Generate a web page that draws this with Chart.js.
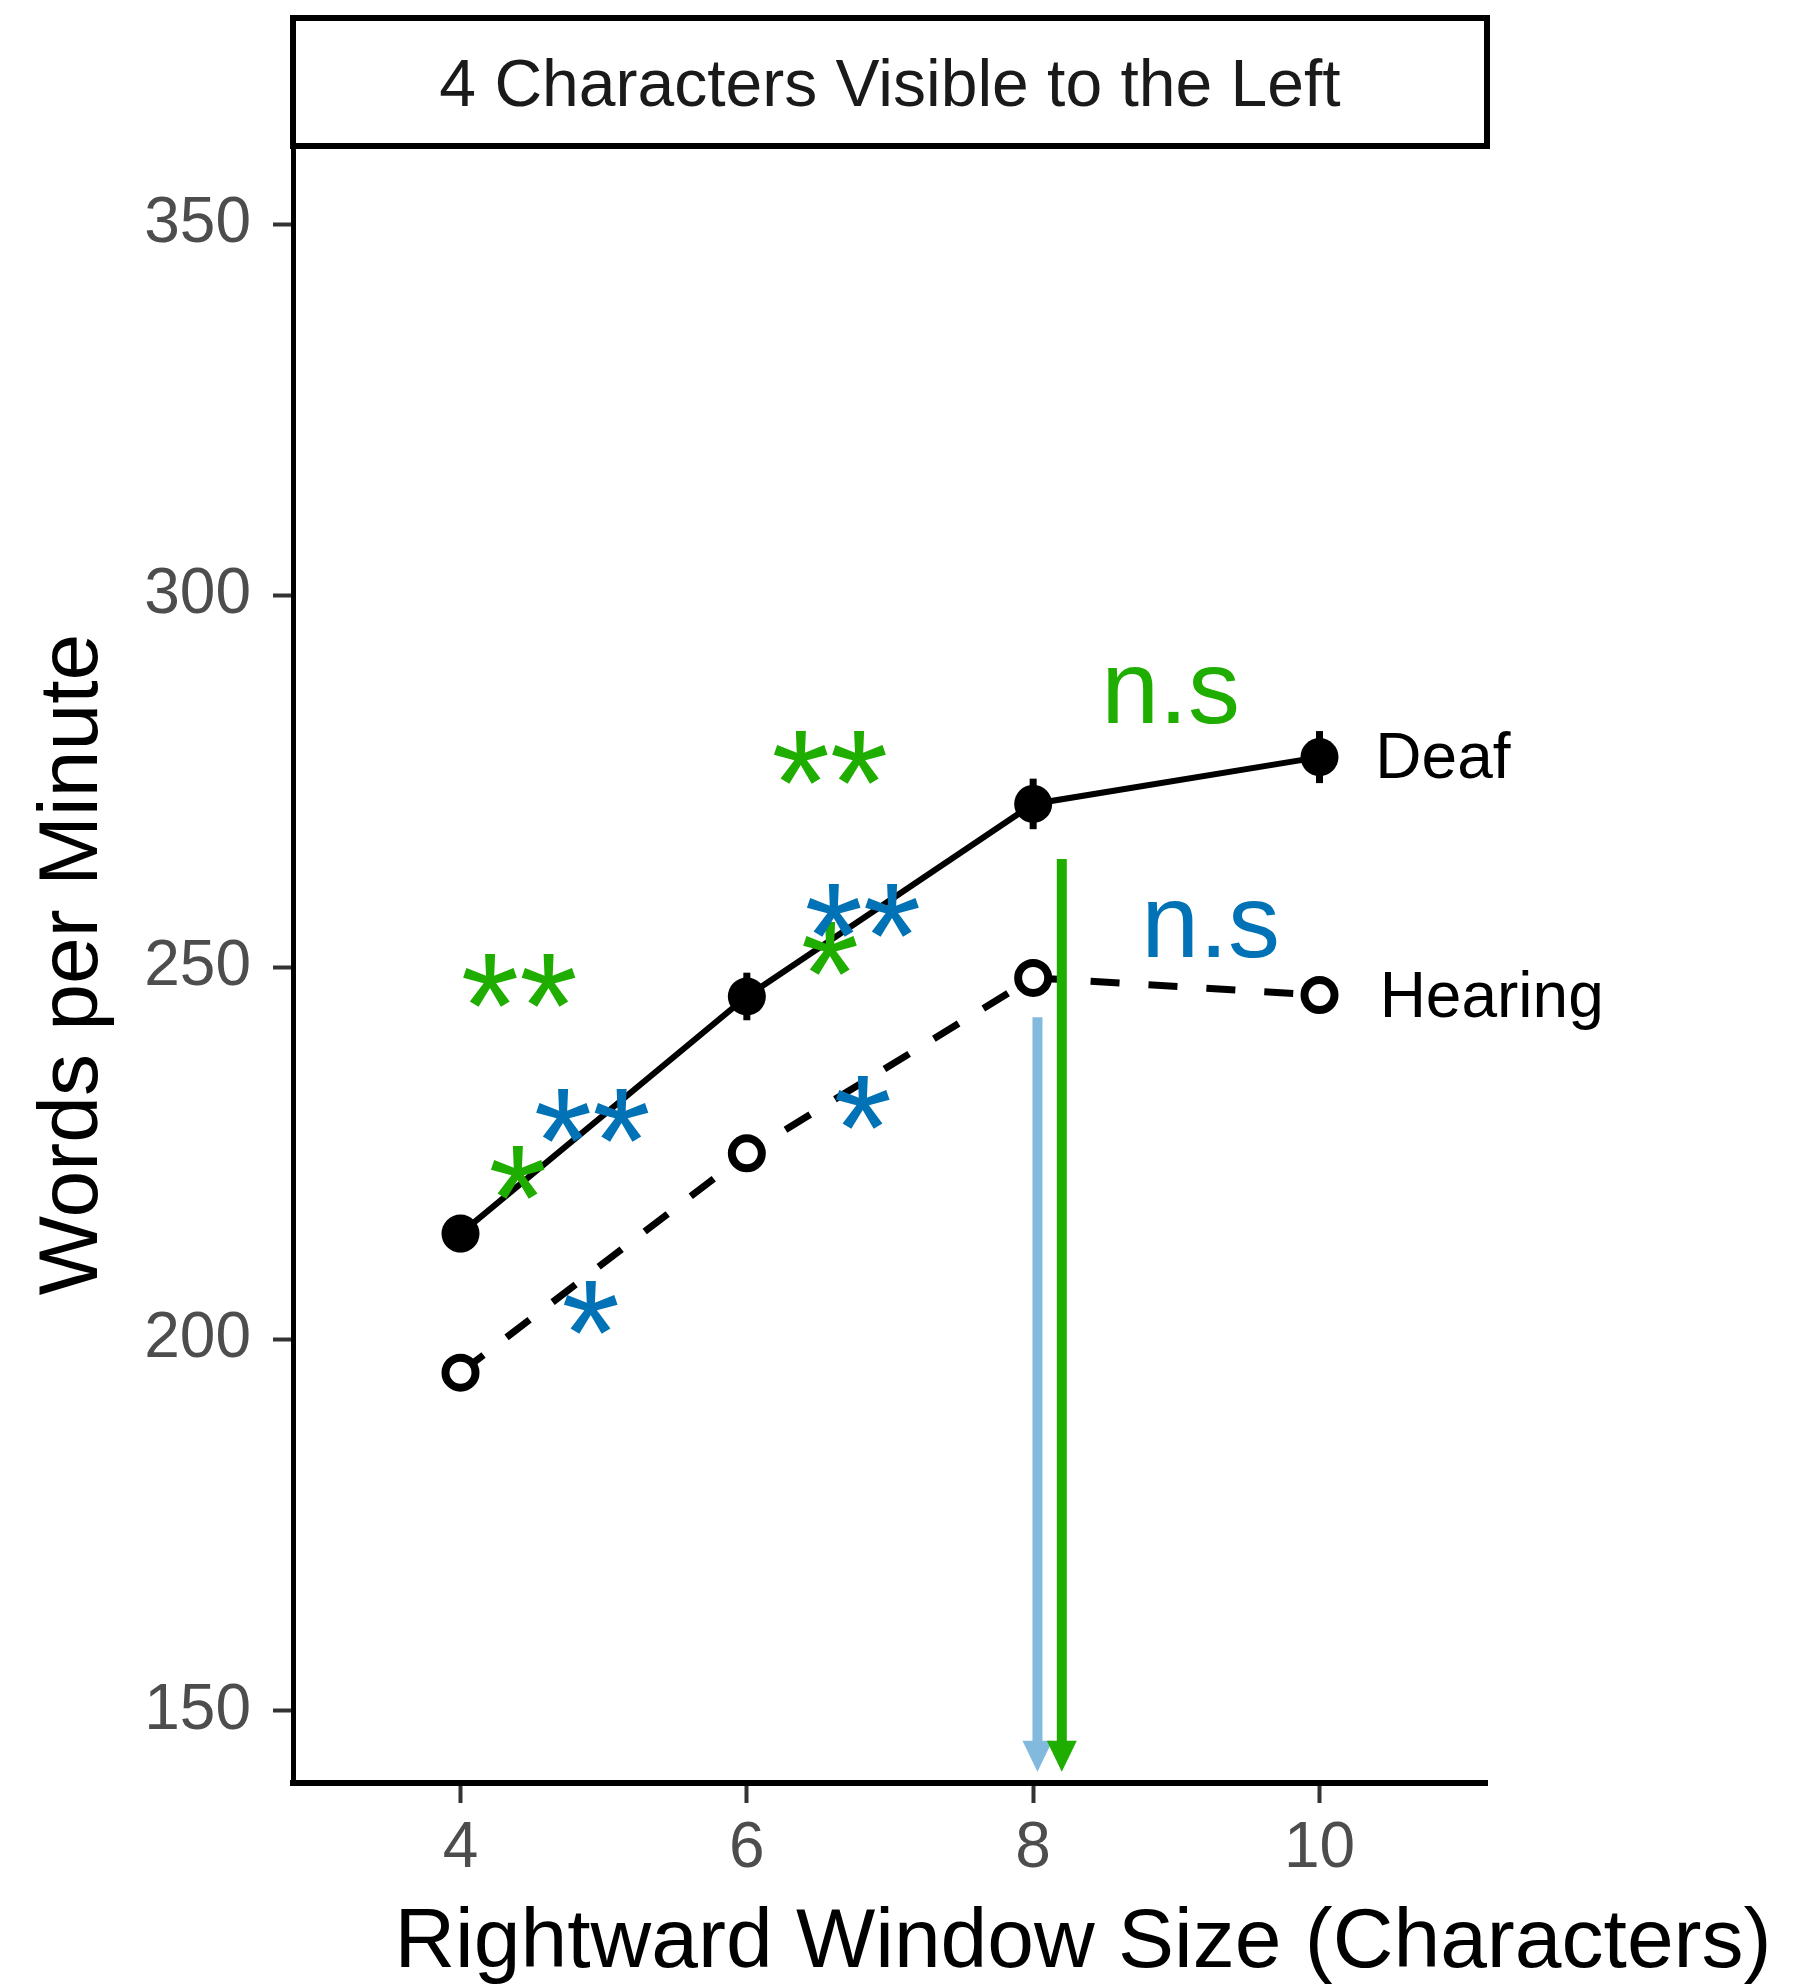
<!DOCTYPE html>
<html>
<head>
<meta charset="utf-8">
<script src="https://cdn.jsdelivr.net/npm/chart.js@4.4.0/dist/chart.umd.min.js"></script>
<style>
  html, body { margin: 0; padding: 0; background: #fff; }
</style>
</head>
<body>
<canvas id="myChart" width="1794" height="1986"></canvas>
<script>
// Rightward window size (x axis)
var windowSize = [4, 6, 8, 10];
// Mean words per minute per group
var deafWpm = [214.2, 246.1, 272.0, 278.3];
var hearingWpm = [195.5, 225.0, 248.6, 246.3];
// Error bar half-heights
var deafErr = [2.5, 3.2, 3.4, 3.5];
var hearingErr = [2.0, 2.0, 2.2, 2.0];

// Axis ticks and ranges
var xTicks = [4, 6, 8, 10];
var yTicks = [150, 200, 250, 300, 350];
var xRange = [2.83, 11.17];
var yRange = [140.3, 360.5];

var panelTitle = '4 Characters Visible to the Left';
var xTitle = 'Rightward Window Size (Characters)';
var yTitle = 'Words per Minute';

// Line end labels
var groupLabels = ['Deaf', 'Hearing'];
var groupLabelX = [10.39, 10.42];
var groupLabelY = [278.6, 245.6];

// Significance marks
var sigText = ['**', '*', '**', '*', '**', '*', '**', '*', 'n.s', 'n.s'];
var sigColor = ['green', 'green', 'blue', 'blue', 'green', 'green', 'blue', 'blue', 'green', 'blue'];
var sigX = [4.41, 4.40, 4.92, 4.91, 6.58, 6.58, 6.81, 6.81, 8.96, 9.24];
var sigY = [248.3, 222.4, 230.1, 204.2, 278.3, 252.6, 257.7, 231.8, 286.6, 255.1];

// Arrows pointing down to the axis
var arrowColor = ['lightblue', 'green'];
var arrowX = [8.03, 8.2];
var arrowFrom = [243.3, 264.6];
var arrowTo = [141.8, 141.8];

var colors = { green: '#1fad00', blue: '#0072b5', lightblue: '#82badd' };
var FONT = '"Liberation Sans", Arial, sans-serif';

// draw text centred on its visible ink
function drawCentered(ctx, text, cx, cy, align) {
    ctx.textAlign = align || 'center';
    ctx.textBaseline = 'alphabetic';
    var m = ctx.measureText(text);
    var base = cy + (m.actualBoundingBoxAscent - m.actualBoundingBoxDescent) / 2;
    ctx.fillText(text, cx, base);
}

var extras = {
    id: 'extras',
    beforeDatasetsDraw: function(chart) {
        var ctx = chart.ctx, xs = chart.scales.x, ys = chart.scales.y;
        ctx.save();
        ctx.strokeStyle = '#000';
        ctx.lineWidth = 7;
        [[deafWpm, deafErr], [hearingWpm, hearingErr]].forEach(function(s) {
            s[0].forEach(function(v, i) {
                var px = xs.getPixelForValue(windowSize[i]);
                ctx.beginPath();
                ctx.moveTo(px, ys.getPixelForValue(v - s[1][i]));
                ctx.lineTo(px, ys.getPixelForValue(v + s[1][i]));
                ctx.stroke();
            });
        });
        ctx.restore();
    },
    afterDatasetsDraw: function(chart) {
        var ctx = chart.ctx, xs = chart.scales.x, ys = chart.scales.y;
        ctx.save();

        // arrows
        arrowX.forEach(function(x, i) {
            var px = xs.getPixelForValue(x);
            var top = ys.getPixelForValue(arrowFrom[i]);
            var tip = ys.getPixelForValue(arrowTo[i]);
            var headH = 31, headW = 30;
            ctx.strokeStyle = colors[arrowColor[i]];
            ctx.fillStyle = colors[arrowColor[i]];
            ctx.lineWidth = 10;
            ctx.beginPath();
            ctx.moveTo(px, top);
            ctx.lineTo(px, tip - headH + 2);
            ctx.stroke();
            ctx.beginPath();
            ctx.moveTo(px - headW / 2, tip - headH);
            ctx.lineTo(px + headW / 2, tip - headH);
            ctx.lineTo(px, tip);
            ctx.closePath();
            ctx.fill();
        });

        // significance marks
        sigText.forEach(function(t, i) {
            var size = t === 'n.s' ? 104 : 150;
            ctx.font = size + 'px ' + FONT;
            ctx.fillStyle = colors[sigColor[i]];
            drawCentered(ctx, t, xs.getPixelForValue(sigX[i]), ys.getPixelForValue(sigY[i]));
        });

        // group labels
        ctx.font = '64px ' + FONT;
        ctx.fillStyle = '#000';
        groupLabels.forEach(function(t, i) {
            drawCentered(ctx, t, xs.getPixelForValue(groupLabelX[i]), ys.getPixelForValue(groupLabelY[i]), 'left');
        });
        ctx.restore();
    },
    afterDraw: function(chart) {
        var ctx = chart.ctx, area = chart.chartArea;
        ctx.save();
        // facet strip
        ctx.strokeStyle = '#000';
        ctx.lineWidth = 6;
        ctx.fillStyle = '#fff';
        ctx.fillRect(area.left, 18, area.right - area.left, area.top - 18);
        ctx.strokeRect(area.left, 18, area.right - area.left, area.top - 18);
        ctx.fillStyle = '#1a1a1a';
        ctx.font = '66px ' + FONT;
        drawCentered(ctx, panelTitle, (area.left + area.right) / 2, (18 + area.top) / 2);
        // x axis title
        ctx.fillStyle = '#000';
        ctx.font = '84px ' + FONT;
        drawCentered(ctx, xTitle, 1083, 1945);
        ctx.restore();
    }
};

var ctx = document.getElementById('myChart').getContext('2d');
var myChart = new Chart(ctx, {
    type: 'line',
    data: {
        datasets: [{
            label: groupLabels[0],
            data: windowSize.map(function(x, i) { return { x: x, y: deafWpm[i] }; }),
            borderColor: '#000',
            borderWidth: 6,
            pointRadius: 19,
            pointBackgroundColor: '#000',
            pointBorderColor: '#000',
            pointBorderWidth: 0,
            clip: false
        }, {
            label: groupLabels[1],
            data: windowSize.map(function(x, i) { return { x: x, y: hearingWpm[i] }; }),
            borderColor: '#000',
            borderWidth: 7,
            borderDash: [29, 29],
            pointRadius: 15,
            pointBackgroundColor: '#fff',
            pointBorderColor: '#000',
            pointBorderWidth: 8,
            clip: false
        }]
    },
    options: {
        responsive: false,
        animation: false,
        devicePixelRatio: 1,
        layout: { padding: { top: 146, right: 307, left: 0, bottom: 0 } },
        plugins: {
            legend: { display: false },
            tooltip: { enabled: false }
        },
        scales: {
            x: {
                type: 'linear',
                min: xRange[0],
                max: xRange[1],
                afterBuildTicks: function(scale) {
                    scale.ticks = xTicks.map(function(v) { return { value: v }; });
                },
                afterFit: function(scale) { scale.height = 203; },
                grid: { drawOnChartArea: false, tickLength: 20, tickColor: '#333', tickWidth: 4 },
                border: { display: true, color: '#000', width: 6 },
                ticks: { color: '#4d4d4d', font: { family: FONT, size: 64 }, padding: 8 }
            },
            y: {
                type: 'linear',
                min: yRange[0],
                max: yRange[1],
                afterBuildTicks: function(scale) {
                    scale.ticks = yTicks.map(function(v) { return { value: v }; });
                },
                afterFit: function(scale) { scale.width = 293; },
                grid: { drawOnChartArea: false, tickLength: 20, tickColor: '#333', tickWidth: 4 },
                border: { display: true, color: '#000', width: 5 },
                ticks: { color: '#4d4d4d', font: { family: FONT, size: 64 }, padding: 22 },
                title: {
                    display: true,
                    text: yTitle,
                    color: '#000',
                    font: { family: FONT, size: 84, lineHeight: 1.2 },
                    padding: { top: 23, bottom: 0 }
                }
            }
        }
    },
    plugins: [extras]
});
</script>
</body>
</html>
